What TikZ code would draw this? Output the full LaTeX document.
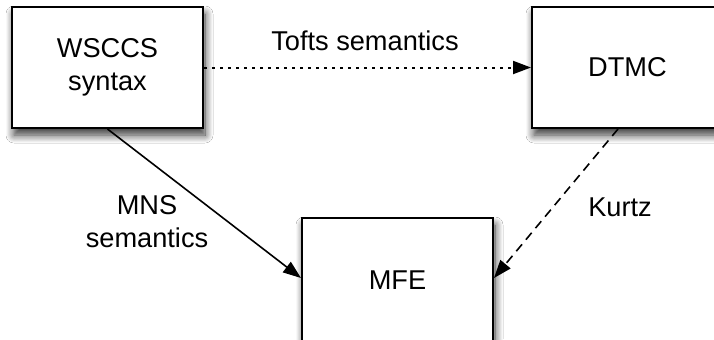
\documentclass[tikz,border=0pt]{standalone}
\usepackage{fontspec}
\setmainfont{Liberation Sans}
\usetikzlibrary{arrows.meta,shadows.blur,calc}
\begin{document}
\begin{tikzpicture}[x=0.5pt,y=-0.5pt,
  txt/.style={font=\fontsize{13.6}{16.5}\selectfont},
  box/.style={draw=black,line width=1pt,fill=white,minimum width=95.5pt,minimum height=60.5pt,
    inner sep=0pt,align=center,txt,
    blur shadow={shadow xshift=1pt,shadow yshift=-3.5pt,shadow blur radius=4pt,shadow blur steps=12,shadow opacity=80}},
  lbl/.style={txt,align=center,inner sep=0pt},
  conn/.style={line width=0.8pt,-{Triangle[length=9pt,width=6.5pt]}}]
\clip (0,0) rectangle (714,339);
\fill[white] (0,0) rectangle (714,339);
\node[box] (W) at (107.5,67.5) {WSCCS\\syntax};
\node[box] (D) at (627.5,67.5) {DTMC};
\node[box,minimum height=75pt] (M) at (397.5,293) {};
\node[lbl] (mt) at (397.5,280) {MFE};
\draw[conn,line width=1pt,dash pattern=on 1.4pt off 2.6pt] (W.east) -- (D.west);
\draw[conn] (W.south) -- ([yshift=7.5pt]M.west);
\draw[conn,dash pattern=on 4.5pt off 3pt] ([xshift=-4.75pt]D.south) -- ([yshift=7.5pt]M.east);
\node[lbl] (t1) at (365,41) {Tofts semantics};
\node[lbl] (t2) at (147,222) {MNS\\semantics};
\node[lbl] (t3) at (620,207) {Kurtz};
\end{tikzpicture}
\end{document}
